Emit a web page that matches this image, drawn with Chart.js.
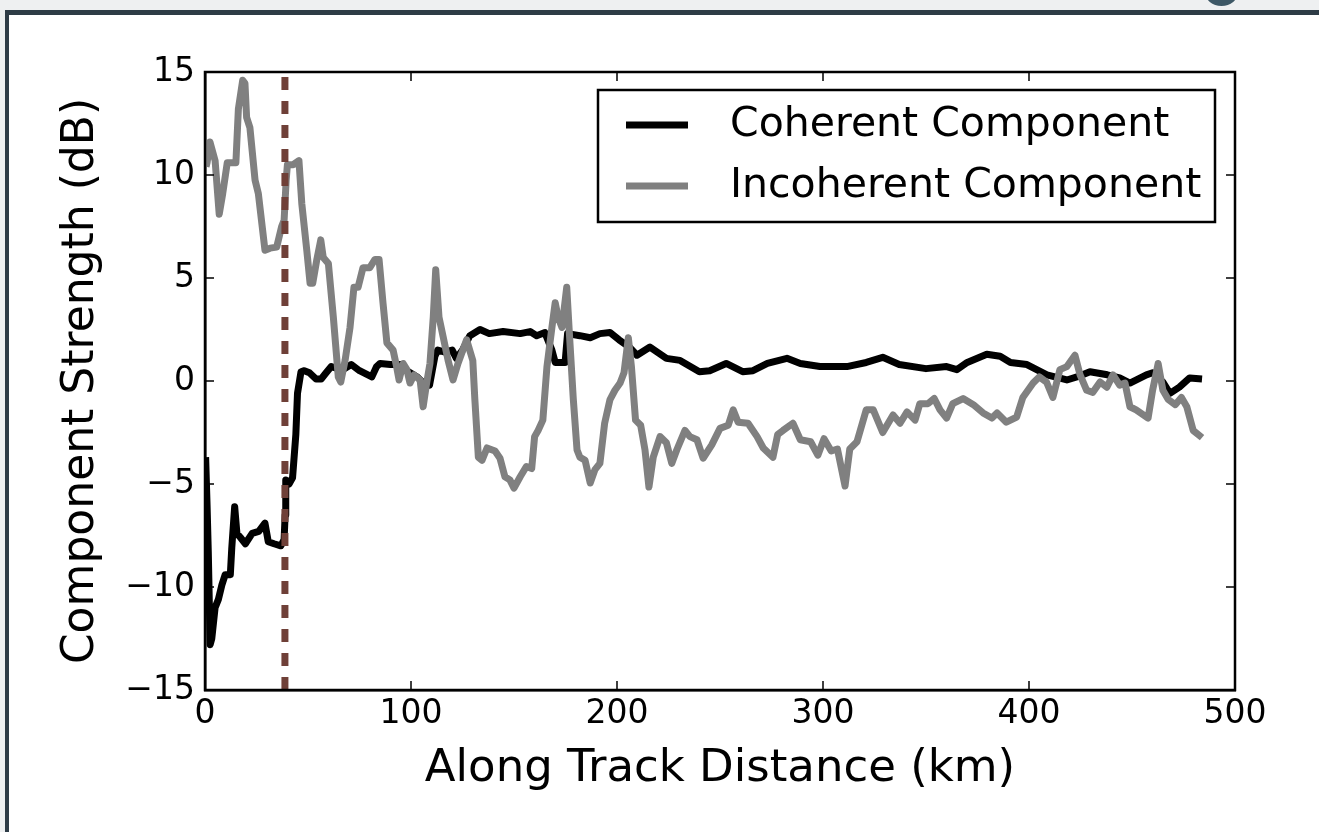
<!DOCTYPE html>
<html>
<head>
<meta charset="utf-8">
<title>Component Strength</title>
<script src="https://cdn.jsdelivr.net/npm/chart.js@4/dist/chart.umd.min.js"></script>
<style>
  body { margin: 0; background: #eef0f1; width: 1319px; height: 832px; overflow: hidden; position: relative; }
  .frame { position: absolute; left: 5px; top: 10px; right: 0; bottom: 0; background: #fff;
           border-top: 5px solid #2e3c46; border-left: 4px solid #2e3c46; }
  .dot { position: absolute; left: 1205px; top: -22px; width: 33px; height: 28px; border-radius: 50%; background: #3d5866; }
  .wrap { position: absolute; left: 0; top: 0; width: 1319px; height: 832px; }
</style>
</head>
<body>
<div class="frame"></div>
<div class="dot"></div>
<div class="wrap"><canvas id="strengthChart"></canvas></div>
<script>
// data (km, dB)
const coherentKm = [0.3, 1.0, 1.6, 2.5, 3.3, 4.9, 6.5, 8.2, 9.8, 12.3, 13.0, 14.4, 15.5, 17.2, 19.6, 22.9, 26.1, 29.1, 30.7, 33.5,
  36.8, 38.4, 38.9, 39.2, 40.8, 42.5, 44.1, 44.9, 46.6, 48.2, 50.7, 53.9, 56.4, 58.8, 61.3, 64.5, 67.8, 71, 75, 81,
  83.3, 85, 90, 94.8, 98, 103, 106, 109, 111.6, 113, 116.5, 120, 122, 125, 128.6, 133.5, 138, 144.7, 153, 157.8,
  161, 165, 168.4, 170, 174.8, 176, 182, 187, 191.7, 196.6, 201, 206, 209.7, 216, 224, 230.6, 240, 245, 253, 261,
  266, 273, 282.5, 289, 298.5, 311.6, 321, 329, 337, 350, 360, 365, 370, 379.5, 386, 391, 399, 408.7, 418.4, 424.8,
  429.6, 438, 444, 449, 457, 460, 465, 468.4, 473, 478, 484];
const coherentDb = [-3.7, -6.0, -8.3, -12.8, -12.5, -11.0, -10.6, -9.9, -9.4, -9.4, -8.1, -6.1, -7.4, -7.6, -7.9, -7.4, -7.3, -6.9, -7.8, -7.9,
  -8.0, -7.7, -6.5, -4.8, -5.0, -4.7, -2.6, -0.6, 0.45, 0.5, 0.4, 0.1, 0.1, 0.4, 0.7, 0.6, 0.6, 0.8, 0.5, 0.2,
  0.7, 0.85, 0.8, 0.8, 0.5, 0.2, -0.1, -0.2, 1.2, 1.5, 1.4, 1.5, 1.1, 1.5, 2.2, 2.5, 2.3, 2.4, 2.3, 2.4,
  2.2, 2.35, 1.5, 0.9, 0.9, 2.3, 2.2, 2.1, 2.3, 2.35, 2.0, 1.65, 1.25, 1.65, 1.1, 1.0, 0.45, 0.5, 0.85, 0.45,
  0.5, 0.85, 1.1, 0.85, 0.7, 0.7, 0.9, 1.15, 0.8, 0.6, 0.7, 0.55, 0.9, 1.3, 1.2, 0.9, 0.8, 0.3, 0.05, 0.25,
  0.45, 0.3, 0.15, -0.1, 0.3, 0.4, -0.05, -0.6, -0.3, 0.15, 0.1];

const incoherentKm = [0.5, 1.0, 2.4, 4.9, 6.9, 8.6, 10.8, 15, 16.2, 18.3, 19.4, 20.2, 21.8, 24.3, 25.9, 29.1, 31.6, 34.8, 37.2, 38.4,
  39.4, 40, 42.8, 45.6, 47, 49.4, 51, 52.3, 54.3, 56.2, 57.4, 59.9, 62.3, 64.7, 65.9, 68, 70.4, 72.3, 74.3, 76.7,
  80, 82.5, 84.5, 86.4, 88.3, 91.3, 93, 94.2, 96.2, 98, 99.5, 101.5, 104.4, 105.9, 107.6, 109.2, 110.8, 112, 113.6, 115.6,
  118, 120.4, 122.8, 127, 130, 131, 132.7, 134.5, 136.9, 140.8, 143.2, 145.6, 148, 150, 153, 156, 158.6, 160, 161.7, 164,
  166, 168.4, 170, 171.4, 173.3, 175.6, 176.8, 178.8, 180.6, 182, 184.5, 187, 189.3, 191.7, 194, 196.6, 199, 201.5, 203.4, 205.5,
  207, 209, 211.5, 213.6, 215.5, 217.6, 220.9, 224, 226.6, 229, 233, 235.4, 238.8, 241.8, 246, 250, 254, 256.4, 258.8, 263.6,
  268, 271, 275.7, 278, 280.6, 285.4, 289, 294, 297.5, 300.5, 304, 307, 310.7, 313, 316.5, 321, 324.4, 329, 334, 337.4,
  340.8, 344.7, 347, 351, 354, 356.8, 360, 363, 368, 373, 377.7, 382, 384.5, 389, 394, 397, 402, 405, 408.5, 411.6,
  415, 418.4, 422.3, 424.8, 428, 431, 434.5, 437.8, 440.8, 444, 446.6, 449, 452, 457.8, 460, 462.7, 465, 467.6, 471, 474,
  476.6, 479.7, 484];
const incoherentDb = [10.4, 10.6, 11.6, 10.7, 8.1, 9.1, 10.6, 10.6, 13.2, 14.6, 14.45, 12.8, 12.3, 9.75, 9.1, 6.35, 6.45, 6.5, 7.5, 7.8,
  9.75, 10.5, 10.5, 10.7, 8.6, 6.35, 4.75, 4.75, 5.9, 6.85, 6.0, 5.7, 3.1, 0.2, -0.05, 1.0, 2.6, 4.55, 4.55, 5.5,
  5.5, 5.9, 5.9, 3.8, 1.85, 1.5, 0.7, 0.05, 0.85, 0.55, -0.1, 0.3, 0.05, -1.25, -0.1, 0.85, 3.1, 5.4, 3.1, 2.15,
  1.0, 0.05, 0.85, 2.0, 1.0, -0.9, -3.7, -3.85, -3.25, -3.4, -3.75, -4.65, -4.8, -5.2, -4.65, -4.15, -4.25, -2.7, -2.4, -1.9,
  0.7, 2.6, 3.8, 3.1, 2.6, 4.55, 2.45, -0.9, -3.35, -3.7, -3.85, -4.95, -4.3, -4.0, -2.05, -0.9, -0.45, -0.1, 0.4, 2.1,
  0.7, -1.9, -2.15, -3.35, -5.15, -3.7, -2.7, -3.0, -4.0, -3.35, -2.4, -2.7, -2.85, -3.75, -3.1, -2.3, -2.15, -1.4, -2.0, -2.05,
  -2.7, -3.25, -3.7, -2.6, -2.4, -2.05, -2.85, -2.95, -3.6, -2.8, -3.4, -3.3, -5.1, -3.3, -2.95, -1.4, -1.4, -2.5, -1.65, -2.05,
  -1.5, -1.9, -1.1, -1.1, -0.85, -1.4, -1.8, -1.1, -0.85, -1.15, -1.55, -1.8, -1.55, -2.0, -1.75, -0.8, -0.1, 0.2, -0.05, -0.8,
  0.55, 0.7, 1.25, 0.3, -0.45, -0.55, -0.05, -0.3, 0.3, -0.2, -0.1, -1.25, -1.4, -1.8, -0.45, 0.85, -0.45, -0.9, -1.15, -0.8,
  -1.25, -2.4, -2.75];

const markerKm = 38.8;
const xTickValues = [0, 100, 200, 300, 400, 500];
const yTickValues = [-15, -10, -5, 0, 5, 10, 15];

function toPoints(xs, ys) {
    return xs.map((x, i) => ({ x: x, y: ys[i] }));
}

Chart.defaults.font.family = "'DejaVu Sans', sans-serif";
Chart.defaults.color = '#000';

// inward ticks on all four sides, closed frame, boxed legend
const framePlugin = {
    id: 'framePlugin',
    afterDatasetsDraw(chart) {
        const { ctx, chartArea: a, scales } = chart;
        ctx.save();
        ctx.strokeStyle = '#000';
        ctx.lineWidth = 1.5;
        const len = 9;
        xTickValues.forEach(v => {
            const px = scales.x.getPixelForValue(v);
            ctx.beginPath();
            ctx.moveTo(px, a.bottom); ctx.lineTo(px, a.bottom - len);
            ctx.moveTo(px, a.top); ctx.lineTo(px, a.top + len);
            ctx.stroke();
        });
        yTickValues.forEach(v => {
            const py = scales.y.getPixelForValue(v);
            ctx.beginPath();
            ctx.moveTo(a.left, py); ctx.lineTo(a.left + len, py);
            ctx.moveTo(a.right, py); ctx.lineTo(a.right - len, py);
            ctx.stroke();
        });
        ctx.lineWidth = 2.5;
        ctx.strokeRect(a.left, a.top, a.right - a.left, a.bottom - a.top);
        ctx.restore();
    },
    afterDraw(chart) {
        const ctx = chart.ctx;
        const items = chart.data.datasets.filter(d => d.label);
        const box = { x: 598, y: 90, w: 617, h: 132 };
        ctx.save();
        ctx.fillStyle = '#fff';
        ctx.fillRect(box.x, box.y, box.w, box.h);
        ctx.strokeStyle = '#000';
        ctx.lineWidth = 2.5;
        ctx.strokeRect(box.x, box.y, box.w, box.h);
        ctx.font = "41px 'DejaVu Sans'";
        ctx.textBaseline = 'middle';
        items.forEach((d, i) => {
            const y = box.y + 35 + i * 61;
            ctx.strokeStyle = d.borderColor;
            ctx.lineWidth = 7;
            ctx.beginPath();
            ctx.moveTo(626, y); ctx.lineTo(688, y);
            ctx.stroke();
            ctx.fillStyle = '#000';
            ctx.fillText(d.label, 730, y);
        });
        ctx.restore();
    }
};

const ctx = document.getElementById('strengthChart').getContext('2d');
const strengthChart = new Chart(ctx, {
    type: 'line',
    data: {
        datasets: [{
            label: 'Coherent Component',
            data: toPoints(coherentKm, coherentDb),
            borderColor: '#000',
            borderWidth: 7,
            order: 2
        }, {
            label: 'Incoherent Component',
            data: toPoints(incoherentKm, incoherentDb),
            borderColor: '#808080',
            borderWidth: 7,
            order: 1
        }, {
            label: '',
            data: [{ x: markerKm, y: -15 }, { x: markerKm, y: 15 }],
            borderColor: '#6f4038',
            borderWidth: 7,
            borderDash: [13, 11],
            borderCapStyle: 'butt',
            order: 0
        }]
    },
    options: {
        responsive: true,
        maintainAspectRatio: false,
        animation: false,
        layout: { padding: { left: 0, top: 72, right: 84, bottom: 0 } },
        elements: {
            point: { radius: 0 },
            line: { tension: 0, borderJoinStyle: 'round', fill: false }
        },
        plugins: {
            legend: { display: false },
            tooltip: { enabled: false }
        },
        scales: {
            x: {
                type: 'linear',
                min: 0,
                max: 500,
                afterFit: s => { s.height = 142; },
                afterBuildTicks: s => { s.ticks = xTickValues.map(v => ({ value: v })); },
                grid: { display: false, drawTicks: false },
                border: { display: true, color: '#000', width: 2.5 },
                ticks: { font: { size: 33 }, padding: 5, maxRotation: 0 },
                title: {
                    display: true,
                    text: 'Along Track Distance (km)',
                    font: { size: 45 },
                    padding: { top: 0, bottom: 36 }
                }
            },
            y: {
                min: -15,
                max: 15,
                afterFit: s => { s.width = 205; },
                afterBuildTicks: s => { s.ticks = yTickValues.map(v => ({ value: v })); },
                grid: { display: false, drawTicks: false },
                border: { display: true, color: '#000', width: 2.5 },
                ticks: {
                    font: { size: 33 },
                    padding: 10,
                    callback: v => String(v).replace('-', '\u2212')
                },
                title: {
                    display: true,
                    text: 'Component Strength (dB)',
                    font: { size: 44 },
                    padding: { top: 55, bottom: 0 }
                }
            }
        }
    },
    plugins: [framePlugin]
});
</script>
</body>
</html>
